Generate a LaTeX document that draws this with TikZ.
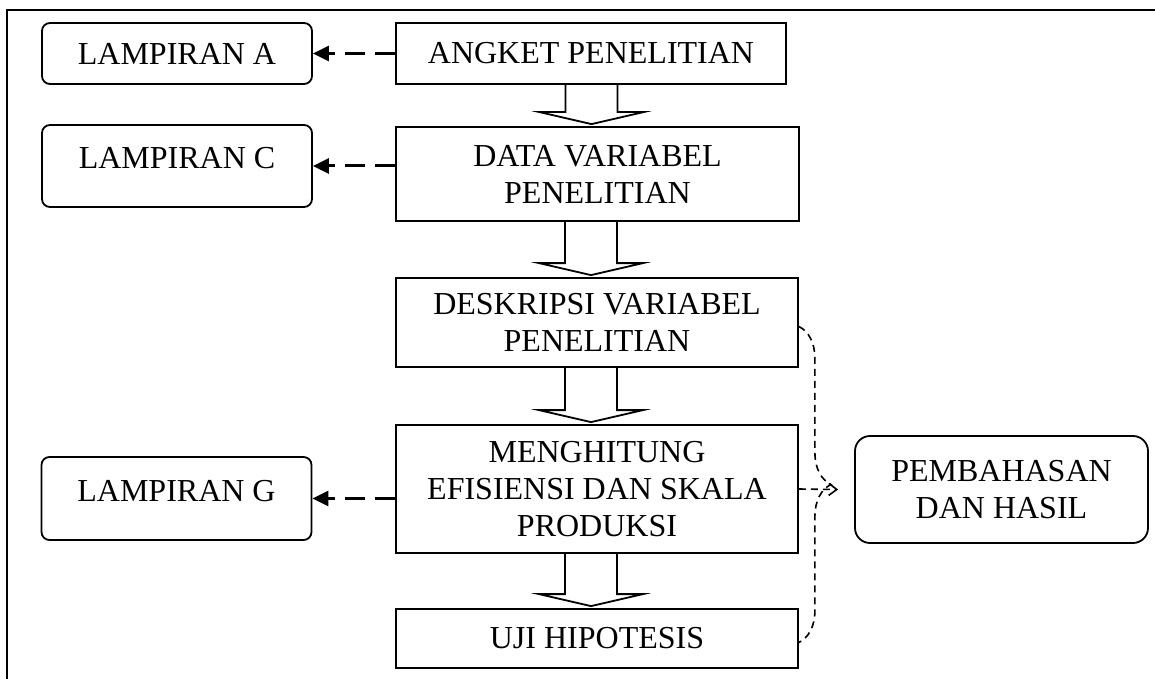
\documentclass[tikz,border=0pt]{standalone}
\usepackage{fontspec}
\setmainfont{Liberation Serif}
\usetikzlibrary{arrows.meta,decorations.pathreplacing}

\begin{document}
\begin{tikzpicture}[x=0.5pt,y=-0.5pt]

	\tikzstyle frame lines=[line width=1pt];
	\tikzstyle flow box=[draw, line width=0.9pt, align=center, inner sep=2pt, font=\fontsize{16}{18.5}\selectfont];
	\tikzstyle lampiran box=[flow box, rounded corners=4pt, minimum width=135pt];
	\tikzstyle process box=[flow box, minimum width=201pt];
	\tikzstyle lampiran lines=[line width=1.5pt, dash pattern=on 10pt off 5pt, -{Triangle[length=8pt,width=7.5pt]}];
	\tikzstyle hasil lines=[line width=0.8pt, dash pattern=on 3.5pt off 2.5pt];
	\tikzstyle block arrow=[line width=0.9pt, line join=miter];

	\useasboundingbox (0,0) rectangle (1155,679);
	\draw[frame lines] (1155,10) -- (7,10) -- (7,679);

	\node[lampiran box, minimum height=30.5pt] (lampA) at (177,53.5) {LAMPIRAN A};
	\node[process box, minimum width=195pt, minimum height=30.5pt] (angket) at (591,53.5) {ANGKET PENELITIAN};
	\node[lampiran box, minimum height=41pt, text depth=8pt] (lampC) at (177,166) {LAMPIRAN C};
	\node[process box, minimum width=201.5pt, minimum height=47pt] (data) at (597.5,174) {DATA VARIABEL\\PENELITIAN};
	\node[process box, minimum height=44.5pt] (deskripsi) at (597,322.5) {DESKRIPSI VARIABEL\\PENELITIAN};
	\node[process box, minimum height=64pt] (menghitung) at (597,489) {MENGHITUNG\\EFISIENSI DAN SKALA\\PRODUKSI};
	\node[lampiran box, minimum height=41.5pt, text depth=8pt] (lampG) at (176.5,498.5) {LAMPIRAN G};
	\node[process box, minimum height=29.5pt] (uji) at (597,638.5) {UJI HIPOTESIS};
	\node[lampiran box, rounded corners=7.5pt, minimum width=146.5pt, minimum height=53.5pt] (pembahasan) at (1001.5,489.5) {PEMBAHASAN\\DAN HASIL};

	% panah ke lampiran
	\draw[lampiran lines] (angket.west) -- (lampA.east);
	\draw[lampiran lines] (lampC.east -| data.west) -- (lampC.east);
	\draw[lampiran lines] (lampG.east -| menghitung.west) -- (lampG.east);

	% panah blok antar langkah
	\foreach \a/\b in {angket/data,data/deskripsi,deskripsi/menghitung,menghitung/uji}
		\draw[block arrow] ([xshift=-16pt]\b.north |- \a.south) -- ([xshift=-16pt,yshift=7pt]\b.north) -- ([xshift=-29pt,yshift=7pt]\b.north)
			-- ([xshift=-3pt,yshift=1pt]\b.north) -- ([xshift=23pt,yshift=7pt]\b.north) -- ([xshift=10pt,yshift=7pt]\b.north) -- ([xshift=10pt]\b.north |- \a.south);

	% kurung ke pembahasan
	\draw[hasil lines, decorate, decoration={brace, amplitude=16pt}] ([yshift=-2pt]deskripsi.east) -- ([yshift=-2pt]uji.east);
	\draw[hasil lines, -{Straight Barb[length=4pt,width=6pt]}] (menghitung.east) -- ([xshift=-8pt]pembahasan.west);

\end{tikzpicture}
\end{document}
